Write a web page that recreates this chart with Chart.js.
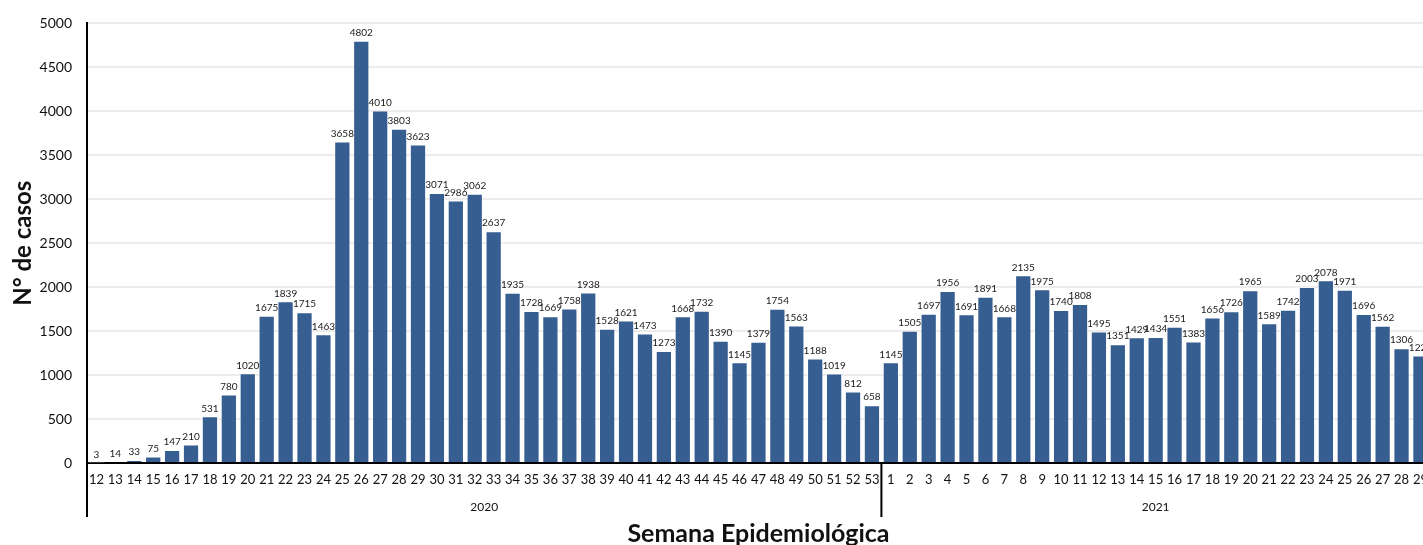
<!DOCTYPE html>
<html>
<head>
<meta charset="utf-8">
<script src="https://cdn.jsdelivr.net/npm/chart.js@4"></script>
<style>
  html, body { margin: 0; padding: 0; background: #fff; overflow: hidden; }
  #wrap { width: 1437px; height: 545px; }
</style>
</head>
<body>
<div id="wrap"><canvas id="chart" width="1437" height="545"></canvas></div>
<script>
/* ── Casos por semana epidemiológica ── */
const weeks2020 = [12, 13, 14, 15, 16, 17, 18, 19, 20, 21, 22, 23, 24, 25, 26, 27, 28, 29, 30, 31, 32, 33, 34, 35, 36, 37, 38, 39, 40, 41, 42, 43, 44, 45, 46, 47, 48, 49, 50, 51, 52, 53];
const cases2020 = [3, 14, 33, 75, 147, 210, 531, 780, 1020, 1675, 1839, 1715, 1463, 3658, 4802, 4010, 3803, 3623, 3071, 2986, 3062, 2637, 1935, 1728, 1669, 1758, 1938, 1528, 1621, 1473, 1273, 1668, 1732, 1390, 1145, 1379, 1754, 1563, 1188, 1019, 812, 658];
const weeks2021 = [1, 2, 3, 4, 5, 6, 7, 8, 9, 10, 11, 12, 13, 14, 15, 16, 17, 18, 19, 20, 21, 22, 23, 24, 25, 26, 27, 28, 29];
const cases2021 = [1145, 1505, 1697, 1956, 1691, 1891, 1668, 2135, 1975, 1740, 1808, 1495, 1351, 1429, 1434, 1551, 1383, 1656, 1726, 1965, 1589, 1742, 2003, 2078, 1971, 1696, 1562, 1306, 1222];
const years = ['2020', '2021'];
const yTicks = [0, 500, 1000, 1500, 2000, 2500, 3000, 3500, 4000, 4500, 5000];

const labels = [...weeks2020, ...weeks2021].map(String);
const values = [...cases2020, ...cases2021];
const groups = [weeks2020.length, weeks2021.length];

const textColor = '#111';
const font = 'Lato, "Open Sans", sans-serif';

// value labels above each bar
const barLabels = {
    id: 'barLabels',
    afterDatasetsDraw(chart) {
        const ctx = chart.ctx;
        const meta = chart.getDatasetMeta(0);
        ctx.save();
        ctx.fillStyle = '#1a1a1a';
        ctx.font = '10px ' + font;
        ctx.textAlign = 'center';
        ctx.textBaseline = 'bottom';
        meta.data.forEach((bar, i) => {
            ctx.fillText(String(values[i]), bar.x, bar.y - 3);
        });
        ctx.restore();
    }
};

// year row + group separators under the week ticks
const yearAxis = {
    id: 'yearAxis',
    afterDraw(chart) {
        const ctx = chart.ctx;
        const x = chart.scales.x;
        const area = chart.chartArea;
        const step = x.getPixelForValue(1) - x.getPixelForValue(0);
        ctx.save();
        ctx.strokeStyle = '#000';
        ctx.lineWidth = 2;
        ctx.fillStyle = textColor;
        ctx.font = '12px ' + font;
        ctx.textAlign = 'center';
        ctx.textBaseline = 'middle';
        let start = 0;
        groups.forEach((n, g) => {
            const left = x.getPixelForValue(start) - step / 2;
            const right = x.getPixelForValue(start + n - 1) + step / 2;
            ctx.beginPath();
            ctx.moveTo(left, area.bottom);
            ctx.lineTo(left, area.bottom + 54);
            ctx.stroke();
            ctx.fillText(years[g], (left + right) / 2, area.bottom + 44);
            start += n;
        });
        ctx.restore();
    }
};

new Chart(document.getElementById('chart'), {
    type: 'bar',
    data: {
        labels: labels,
        datasets: [{
            label: 'N° de casos',
            data: values,
            backgroundColor: '#365e91',
            borderColor: 'rgba(255,255,255,0.45)',
            borderWidth: 1,
            categoryPercentage: 1,
            barPercentage: 0.86
        }]
    },
    options: {
        responsive: false,
        animation: false,
        layout: { padding: { top: 22, right: 0, left: 0, bottom: 0 } },
        plugins: {
            legend: { display: false },
            tooltip: { enabled: false }
        },
        scales: {
            x: {
                grid: { display: false, drawTicks: false },
                border: { color: '#000', width: 2 },
                ticks: { color: textColor, font: { size: 13, family: font }, padding: 9, maxRotation: 0, autoSkip: false },
                title: { display: true, text: 'Semana Epidemiológica', color: textColor, font: { size: 25, weight: 'bold', family: font }, padding: { top: 0, bottom: -4 } },
                afterFit: (s) => { s.height = 82; }
            },
            y: {
                min: 0,
                max: 5000,
                afterBuildTicks: (s) => { s.ticks = yTicks.map(v => ({ value: v })); },
                grid: { color: '#ececec', lineWidth: 2, drawTicks: false },
                border: { color: '#000', width: 2 },
                ticks: { color: textColor, font: { size: 14, family: font }, padding: 15, callback: (v) => String(v) },
                title: { display: true, text: 'N° de casos', color: textColor, font: { size: 24, weight: 'bold', family: font }, padding: { top: 9, bottom: 4 } },
                afterFit: (s) => { s.width = 87; }
            }
        }
    },
    plugins: [barLabels, yearAxis]
});
</script>
</body>
</html>
